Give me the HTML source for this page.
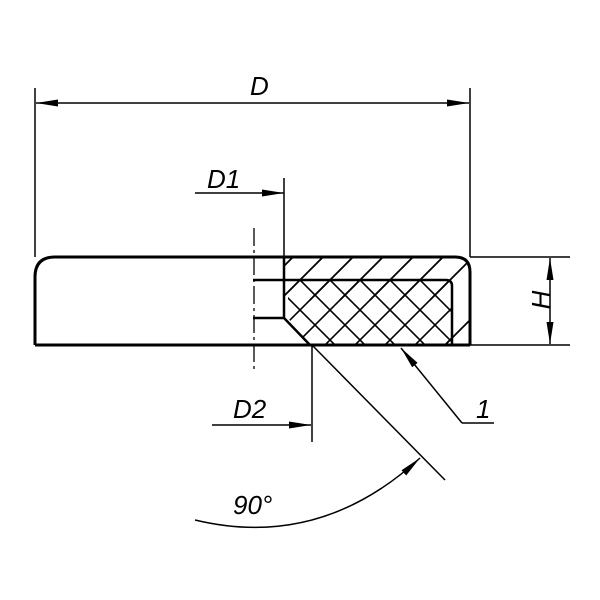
<!DOCTYPE html>
<html><head><style>body{margin:0;background:#fff}svg{display:block}text{font-family:"Liberation Sans",sans-serif;font-style:italic;font-size:26px;fill:#000}</style></head>
<body><svg width="600" height="600" viewBox="0 0 600 600">
<defs>
<marker id="a" markerWidth="22" markerHeight="8" refX="22" refY="4" orient="auto" markerUnits="userSpaceOnUse"><path d="M0,0.5 L22,4 L0,7.5z" fill="#000"/></marker>
<clipPath id="c1"><path d="M284,257 H455 Q470,257 470,272 V345 H310 L284,318 Z"/></clipPath>
<clipPath id="c2"><path d="M288,280 H446 Q452,280 452,286 V345 H310 L288,318 Z"/></clipPath>
</defs>
<g clip-path="url(#c1)" stroke="#000" stroke-width="1.8">
<path d="M250,300 L310,240 M280,300 L340,240 M310,300 L370,240 M340,300 L400,240 M370,300 L430,240 M400,300 L460,240 M430,300 L490,240 M440,350 L520,270 M420,370 L500,290"/>
</g>
<g clip-path="url(#c2)" stroke="#000" stroke-width="1.6">
<path d="M200,380 L320,260 M230,380 L350,260 M260,380 L380,260 M290,380 L410,260 M320,380 L440,260 M350,380 L470,260 M380,380 L500,260 M410,380 L530,260 M440,380 L560,260
M200,240 L340,380 M230,240 L370,380 M260,240 L400,380 M290,240 L430,380 M320,240 L460,380 M350,240 L490,380 M380,240 L520,380 M410,240 L550,380 M260,270 L370,380 M170,240 L310,380"/>
</g>
<g fill="none" stroke="#000">
<path d="M284,257 H455 Q470,257 470,272 V345" stroke-width="3"/>
<path d="M55,257 H284 M35,345 H470 M55,257 Q35,257 35,277 V345" stroke-width="3"/>
<path d="M284,257 V318 M253,280 H446 Q452,280 452,286 V345 M253,318 H284 L310,345" stroke-width="2.5"/>
<path d="M254,228 V370" stroke-width="1.3" stroke-dasharray="18,4,3,4"/>
<g stroke-width="1.5">
<path d="M35,88 V257 M470,88 V257 M284,178 V257 M312,345 V442 M470,257 H570 M470,345 H570 M312,345 L445,480 M462,423 H494"/>
<path d="M250,103 H36" marker-end="url(#a)"/>
<path d="M250,103 H469" marker-end="url(#a)"/>
<path d="M195,193 H284" marker-end="url(#a)"/>
<path d="M212,425 H311" marker-end="url(#a)"/>
<path d="M550,300 V258" marker-end="url(#a)"/>
<path d="M550,300 V344" marker-end="url(#a)"/>
<path d="M462,423 L401,348" marker-end="url(#a)"/>
<path d="M195,520 Q320,550 420,458" marker-end="url(#a)"/>
</g></g>
<text x="250" y="95">D</text>
<text x="207" y="188">D1</text>
<text x="233" y="418">D2</text>
<text x="476" y="418">1</text>
<text x="233" y="514">90°</text>
<text x="541" y="309" transform="rotate(-90 541 300)" text-anchor="middle">H</text>
</svg></body></html>
